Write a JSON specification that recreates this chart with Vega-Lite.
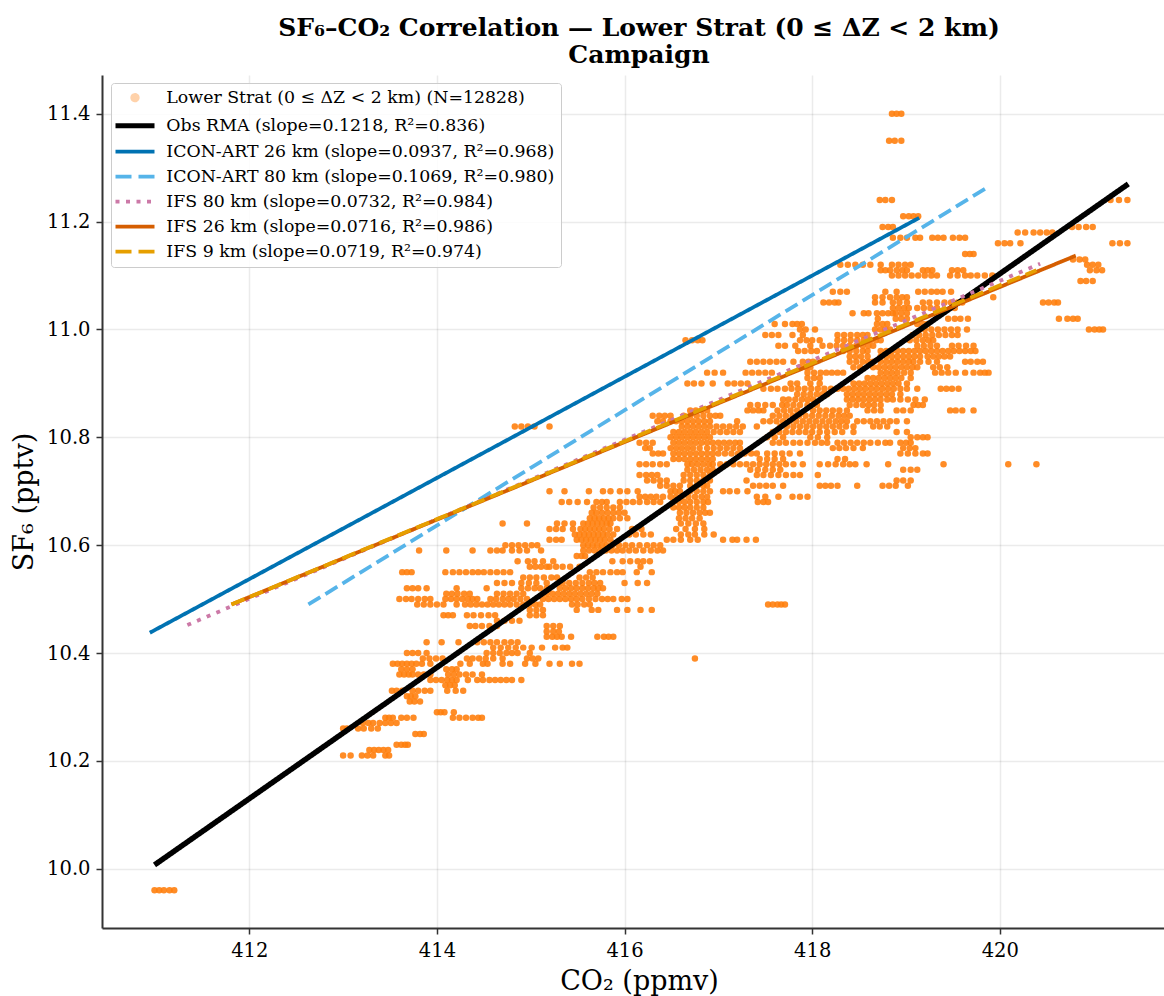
{"$schema":"https://vega.github.io/schema/vega-lite/v6.json","width":1062,"height":853,"autosize":"none","padding":{"left":102,"top":75,"right":0,"bottom":68},"background":"white",
"config":{"view":{"stroke":null},"font":"DejaVu Serif"},
"title":{"text":["SF₆–CO₂ Correlation — Lower Strat (0 ≤ ΔZ < 2 km)","Campaign"],"font":"DejaVu Serif","fontSize":25,"fontWeight":"bold","color":"#000","lineHeight":27,"anchor":"middle","dx":6,"offset":7,"frame":"group"},
"layer":[
{"data":{"values":[
{"x":410.99,"y":9.96},{"x":411.04,"y":9.96},{"x":411.09,"y":9.96},{"x":411.15,"y":9.96},{"x":411.2,"y":9.96},
{"x":413.0,"y":10.21},{"x":413.08,"y":10.21},{"x":413.2,"y":10.21},{"x":413.26,"y":10.21},{"x":413.32,"y":10.21},{"x":413.45,"y":10.21},{"x":413.49,"y":10.21},
{"x":413.28,"y":10.22},{"x":413.33,"y":10.22},{"x":413.38,"y":10.22},{"x":413.43,"y":10.22},{"x":413.48,"y":10.22},
{"x":413.57,"y":10.23},{"x":413.62,"y":10.23},{"x":413.66,"y":10.23},{"x":413.69,"y":10.23},
{"x":413.77,"y":10.25},{"x":413.82,"y":10.25},{"x":413.86,"y":10.25},
{"x":413.0,"y":10.26},{"x":413.04,"y":10.26},{"x":413.16,"y":10.26},{"x":413.22,"y":10.26},{"x":413.3,"y":10.26},{"x":413.37,"y":10.26},
{"x":413.21,"y":10.27},{"x":413.27,"y":10.27},{"x":413.32,"y":10.27},{"x":413.39,"y":10.27},{"x":413.45,"y":10.27},{"x":413.51,"y":10.27},{"x":413.57,"y":10.27},
{"x":413.45,"y":10.28},{"x":413.49,"y":10.28},{"x":413.53,"y":10.28},{"x":413.62,"y":10.28},{"x":413.68,"y":10.28},{"x":413.75,"y":10.28},{"x":414.17,"y":10.28},{"x":414.24,"y":10.28},{"x":414.31,"y":10.28},{"x":414.38,"y":10.28},{"x":414.44,"y":10.28},{"x":414.48,"y":10.28},
{"x":414.0,"y":10.29},{"x":414.04,"y":10.29},{"x":414.08,"y":10.29},{"x":414.18,"y":10.29},
{"x":413.71,"y":10.31},{"x":413.76,"y":10.31},{"x":413.82,"y":10.31},
{"x":413.68,"y":10.32},{"x":413.72,"y":10.32},{"x":413.77,"y":10.32},
{"x":413.52,"y":10.33},{"x":413.57,"y":10.33},{"x":413.63,"y":10.33},{"x":413.74,"y":10.33},{"x":413.8,"y":10.33},{"x":413.87,"y":10.33},{"x":413.93,"y":10.33},{"x":414.11,"y":10.33},{"x":414.2,"y":10.33},{"x":414.28,"y":10.33},
{"x":414.09,"y":10.34},{"x":414.14,"y":10.34},{"x":414.19,"y":10.34},
{"x":413.93,"y":10.35},{"x":413.99,"y":10.35},{"x":414.05,"y":10.35},{"x":414.11,"y":10.35},{"x":414.16,"y":10.35},{"x":414.21,"y":10.35},{"x":414.33,"y":10.35},{"x":414.43,"y":10.35},{"x":414.49,"y":10.35},{"x":414.56,"y":10.35},{"x":414.62,"y":10.35},{"x":414.68,"y":10.35},{"x":414.74,"y":10.35},{"x":414.8,"y":10.35},{"x":414.9,"y":10.35},
{"x":413.6,"y":10.36},{"x":413.65,"y":10.36},{"x":413.7,"y":10.36},{"x":413.74,"y":10.36},{"x":413.8,"y":10.36},{"x":413.86,"y":10.36},{"x":413.93,"y":10.36},{"x":414.12,"y":10.36},{"x":414.18,"y":10.36},{"x":414.24,"y":10.36},{"x":414.31,"y":10.36},{"x":414.38,"y":10.36},{"x":414.48,"y":10.36},
{"x":413.62,"y":10.37},{"x":413.68,"y":10.37},{"x":413.74,"y":10.37},{"x":414.1,"y":10.37},{"x":414.16,"y":10.37},{"x":414.21,"y":10.37},
{"x":413.53,"y":10.38},{"x":413.58,"y":10.38},{"x":413.63,"y":10.38},{"x":413.68,"y":10.38},{"x":413.73,"y":10.38},{"x":413.78,"y":10.38},{"x":413.84,"y":10.38},{"x":413.93,"y":10.38},{"x":414.25,"y":10.38},{"x":414.35,"y":10.38},{"x":414.49,"y":10.38},{"x":414.54,"y":10.38},{"x":414.7,"y":10.38},{"x":414.78,"y":10.38},{"x":414.94,"y":10.38},{"x":415.05,"y":10.38},{"x":415.2,"y":10.38},{"x":415.31,"y":10.38},{"x":415.44,"y":10.38},{"x":415.52,"y":10.38},
{"x":413.85,"y":10.39},{"x":413.92,"y":10.39},{"x":413.99,"y":10.39},{"x":414.06,"y":10.39},{"x":414.32,"y":10.39},{"x":414.38,"y":10.39},{"x":414.45,"y":10.39},{"x":414.52,"y":10.39},{"x":414.6,"y":10.39},{"x":414.7,"y":10.39},{"x":414.96,"y":10.39},{"x":415.02,"y":10.39},{"x":415.08,"y":10.39},{"x":416.75,"y":10.39},
{"x":413.68,"y":10.4},{"x":413.74,"y":10.4},{"x":413.8,"y":10.4},{"x":413.89,"y":10.4},{"x":414.53,"y":10.4},{"x":414.6,"y":10.4},{"x":414.67,"y":10.4},{"x":414.74,"y":10.4},{"x":414.8,"y":10.4},{"x":414.86,"y":10.4},{"x":414.99,"y":10.4},
{"x":414.6,"y":10.41},{"x":414.68,"y":10.41},{"x":414.76,"y":10.41},{"x":414.84,"y":10.41},{"x":414.92,"y":10.41},{"x":415.01,"y":10.41},{"x":415.12,"y":10.41},{"x":415.26,"y":10.41},{"x":415.34,"y":10.41},{"x":415.39,"y":10.41},
{"x":413.89,"y":10.42},{"x":414.05,"y":10.42},{"x":414.23,"y":10.42},{"x":414.43,"y":10.42},{"x":414.5,"y":10.42},{"x":414.57,"y":10.42},{"x":414.64,"y":10.42},{"x":414.72,"y":10.42},{"x":414.79,"y":10.42},{"x":414.86,"y":10.42},
{"x":415.17,"y":10.43},{"x":415.23,"y":10.43},{"x":415.28,"y":10.43},{"x":415.33,"y":10.43},{"x":415.43,"y":10.43},{"x":415.71,"y":10.43},{"x":415.78,"y":10.43},{"x":415.83,"y":10.43},{"x":415.88,"y":10.43},
{"x":415.17,"y":10.44},{"x":415.24,"y":10.44},{"x":415.3,"y":10.44},
{"x":414.35,"y":10.45},{"x":414.41,"y":10.45},{"x":414.48,"y":10.45},{"x":414.56,"y":10.45},{"x":414.64,"y":10.45},{"x":415.17,"y":10.45},{"x":415.24,"y":10.45},{"x":415.31,"y":10.45},
{"x":414.64,"y":10.46},{"x":414.72,"y":10.46},{"x":414.8,"y":10.46},{"x":414.88,"y":10.46},
{"x":414.07,"y":10.47},{"x":414.12,"y":10.47},{"x":414.17,"y":10.47},{"x":414.32,"y":10.47},{"x":414.39,"y":10.47},{"x":414.47,"y":10.47},{"x":414.55,"y":10.47},{"x":414.62,"y":10.47},{"x":414.99,"y":10.47},{"x":415.06,"y":10.47},{"x":415.13,"y":10.47},
{"x":414.99,"y":10.48},{"x":415.06,"y":10.48},{"x":415.13,"y":10.48},{"x":415.49,"y":10.48},{"x":415.65,"y":10.48},{"x":415.72,"y":10.48},{"x":415.92,"y":10.48},{"x":416.03,"y":10.48},{"x":416.17,"y":10.48},{"x":416.29,"y":10.48},
{"x":413.79,"y":10.49},{"x":413.86,"y":10.49},{"x":413.93,"y":10.49},{"x":414.0,"y":10.49},{"x":414.07,"y":10.49},{"x":414.21,"y":10.49},{"x":414.3,"y":10.49},{"x":414.36,"y":10.49},{"x":414.42,"y":10.49},{"x":414.48,"y":10.49},{"x":414.54,"y":10.49},{"x":414.6,"y":10.49},{"x":414.66,"y":10.49},{"x":414.72,"y":10.49},{"x":414.78,"y":10.49},{"x":414.85,"y":10.49},{"x":414.92,"y":10.49},{"x":414.99,"y":10.49},{"x":415.05,"y":10.49},{"x":415.1,"y":10.49},{"x":415.44,"y":10.49},{"x":415.5,"y":10.49},{"x":415.57,"y":10.49},{"x":415.63,"y":10.49},{"x":417.53,"y":10.49},{"x":417.58,"y":10.49},{"x":417.63,"y":10.49},{"x":417.67,"y":10.49},{"x":417.71,"y":10.49},
{"x":413.6,"y":10.5},{"x":413.67,"y":10.5},{"x":413.73,"y":10.5},{"x":413.8,"y":10.5},{"x":413.87,"y":10.5},{"x":413.93,"y":10.5},{"x":414.09,"y":10.5},{"x":414.15,"y":10.5},{"x":414.21,"y":10.5},{"x":414.27,"y":10.5},{"x":414.33,"y":10.5},{"x":414.38,"y":10.5},{"x":414.43,"y":10.5},{"x":414.57,"y":10.5},{"x":414.63,"y":10.5},{"x":414.7,"y":10.5},{"x":414.76,"y":10.5},{"x":414.82,"y":10.5},{"x":414.89,"y":10.5},{"x":414.96,"y":10.5},{"x":415.13,"y":10.5},{"x":415.19,"y":10.5},{"x":415.25,"y":10.5},{"x":415.31,"y":10.5},{"x":415.37,"y":10.5},{"x":415.43,"y":10.5},{"x":415.49,"y":10.5},{"x":415.55,"y":10.5},{"x":415.62,"y":10.5},{"x":415.69,"y":10.5},{"x":415.76,"y":10.5},{"x":415.82,"y":10.5},{"x":415.88,"y":10.5},{"x":415.97,"y":10.5},{"x":416.03,"y":10.5},
{"x":414.1,"y":10.51},{"x":414.16,"y":10.51},{"x":414.22,"y":10.51},{"x":414.29,"y":10.51},{"x":414.35,"y":10.51},{"x":414.64,"y":10.51},{"x":414.71,"y":10.51},{"x":414.78,"y":10.51},{"x":414.85,"y":10.51},{"x":414.92,"y":10.51},{"x":415.17,"y":10.51},{"x":415.23,"y":10.51},{"x":415.29,"y":10.51},{"x":415.35,"y":10.51},{"x":415.41,"y":10.51},{"x":415.47,"y":10.51},{"x":415.53,"y":10.51},{"x":415.59,"y":10.51},{"x":415.65,"y":10.51},{"x":415.71,"y":10.51},
{"x":413.68,"y":10.52},{"x":413.74,"y":10.52},{"x":413.8,"y":10.52},{"x":413.89,"y":10.52},{"x":414.21,"y":10.52},{"x":414.53,"y":10.52},{"x":414.9,"y":10.52},{"x":414.97,"y":10.52},{"x":415.04,"y":10.52},{"x":415.1,"y":10.52},{"x":415.17,"y":10.52},{"x":415.31,"y":10.52},{"x":415.37,"y":10.52},{"x":415.43,"y":10.52},{"x":415.49,"y":10.52},{"x":415.55,"y":10.52},{"x":415.61,"y":10.52},{"x":415.67,"y":10.52},{"x":415.72,"y":10.52},{"x":415.77,"y":10.52},
{"x":414.64,"y":10.53},{"x":414.72,"y":10.53},{"x":414.8,"y":10.53},{"x":414.9,"y":10.53},{"x":414.98,"y":10.53},{"x":415.06,"y":10.53},{"x":415.17,"y":10.53},{"x":415.34,"y":10.53},{"x":415.41,"y":10.53},{"x":415.48,"y":10.53},{"x":415.55,"y":10.53},{"x":415.62,"y":10.53},{"x":415.68,"y":10.53},{"x":415.74,"y":10.53},{"x":416.0,"y":10.53},{"x":416.14,"y":10.53},{"x":416.24,"y":10.53},
{"x":414.92,"y":10.54},{"x":414.99,"y":10.54},{"x":415.06,"y":10.54},{"x":415.14,"y":10.54},{"x":415.22,"y":10.54},{"x":415.28,"y":10.54},{"x":415.52,"y":10.54},{"x":415.59,"y":10.54},{"x":415.66,"y":10.54},
{"x":413.63,"y":10.55},{"x":413.68,"y":10.55},{"x":413.73,"y":10.55},{"x":414.09,"y":10.55},{"x":414.17,"y":10.55},{"x":414.24,"y":10.55},{"x":414.31,"y":10.55},{"x":414.38,"y":10.55},{"x":414.44,"y":10.55},{"x":414.5,"y":10.55},{"x":414.57,"y":10.55},{"x":414.64,"y":10.55},{"x":414.71,"y":10.55},{"x":414.78,"y":10.55},{"x":415.63,"y":10.55},{"x":415.7,"y":10.55},{"x":415.77,"y":10.55},{"x":415.85,"y":10.55},{"x":415.92,"y":10.55},{"x":415.98,"y":10.55},{"x":416.13,"y":10.55},{"x":416.29,"y":10.55},
{"x":414.99,"y":10.56},{"x":415.05,"y":10.56},{"x":415.11,"y":10.56},{"x":415.17,"y":10.56},{"x":415.2,"y":10.56},{"x":415.27,"y":10.56},{"x":415.34,"y":10.56},{"x":415.42,"y":10.56},{"x":415.52,"y":10.56},{"x":416.17,"y":10.56},
{"x":414.86,"y":10.57},{"x":414.97,"y":10.57},{"x":415.04,"y":10.57},{"x":415.13,"y":10.57},{"x":415.24,"y":10.57},{"x":415.87,"y":10.57},{"x":415.98,"y":10.57},{"x":416.06,"y":10.57},{"x":416.14,"y":10.57},{"x":416.2,"y":10.57},{"x":416.27,"y":10.57},
{"x":415.49,"y":10.58},{"x":415.54,"y":10.58},{"x":415.58,"y":10.58},
{"x":413.81,"y":10.59},{"x":414.1,"y":10.59},{"x":414.38,"y":10.59},{"x":414.57,"y":10.59},{"x":414.64,"y":10.59},{"x":414.7,"y":10.59},{"x":414.8,"y":10.59},{"x":414.88,"y":10.59},{"x":414.96,"y":10.59},{"x":415.11,"y":10.59},{"x":415.56,"y":10.59},{"x":415.62,"y":10.59},{"x":415.68,"y":10.59},{"x":415.74,"y":10.59},{"x":415.8,"y":10.59},{"x":415.86,"y":10.59},{"x":415.92,"y":10.59},{"x":415.98,"y":10.59},{"x":416.05,"y":10.59},{"x":416.12,"y":10.59},{"x":416.2,"y":10.59},{"x":416.28,"y":10.59},{"x":416.35,"y":10.59},{"x":416.41,"y":10.59},
{"x":414.73,"y":10.6},{"x":414.8,"y":10.6},{"x":414.87,"y":10.6},{"x":414.94,"y":10.6},{"x":415.01,"y":10.6},{"x":415.07,"y":10.6},{"x":415.56,"y":10.6},{"x":415.61,"y":10.6},{"x":415.66,"y":10.6},{"x":415.71,"y":10.6},{"x":415.76,"y":10.6},{"x":415.81,"y":10.6},{"x":415.87,"y":10.6},{"x":415.94,"y":10.6},{"x":416.01,"y":10.6},{"x":416.08,"y":10.6},{"x":416.16,"y":10.6},{"x":416.24,"y":10.6},{"x":416.31,"y":10.6},{"x":416.38,"y":10.6},
{"x":415.2,"y":10.61},{"x":415.27,"y":10.61},{"x":415.33,"y":10.61},{"x":415.49,"y":10.61},{"x":415.54,"y":10.61},{"x":415.59,"y":10.61},{"x":415.64,"y":10.61},{"x":415.69,"y":10.61},{"x":415.74,"y":10.61},{"x":415.79,"y":10.61},{"x":415.85,"y":10.61},{"x":416.45,"y":10.61},{"x":416.52,"y":10.61},{"x":416.6,"y":10.61},{"x":416.7,"y":10.61},{"x":416.78,"y":10.61},{"x":417.05,"y":10.61},{"x":417.15,"y":10.61},{"x":417.2,"y":10.61},{"x":417.3,"y":10.61},{"x":417.4,"y":10.61},
{"x":415.47,"y":10.62},{"x":415.52,"y":10.62},{"x":415.57,"y":10.62},{"x":415.62,"y":10.62},{"x":415.67,"y":10.62},{"x":415.72,"y":10.62},{"x":415.77,"y":10.62},{"x":415.82,"y":10.62},{"x":415.88,"y":10.62},{"x":416.05,"y":10.62},{"x":416.12,"y":10.62},{"x":416.2,"y":10.62},{"x":416.28,"y":10.62},{"x":416.6,"y":10.62},{"x":416.68,"y":10.62},{"x":416.75,"y":10.62},{"x":416.85,"y":10.62},{"x":416.95,"y":10.62},
{"x":415.2,"y":10.63},{"x":415.27,"y":10.63},{"x":415.34,"y":10.63},{"x":415.45,"y":10.63},{"x":415.53,"y":10.63},{"x":415.58,"y":10.63},{"x":415.63,"y":10.63},{"x":415.68,"y":10.63},{"x":415.73,"y":10.63},{"x":415.78,"y":10.63},{"x":415.84,"y":10.63},{"x":415.92,"y":10.63},{"x":416.08,"y":10.63},{"x":416.18,"y":10.63},{"x":416.55,"y":10.63},{"x":416.65,"y":10.63},{"x":416.75,"y":10.63},{"x":416.85,"y":10.63},
{"x":414.7,"y":10.64},{"x":414.96,"y":10.64},{"x":415.28,"y":10.64},{"x":415.36,"y":10.64},{"x":415.45,"y":10.64},{"x":415.56,"y":10.64},{"x":415.61,"y":10.64},{"x":415.66,"y":10.64},{"x":415.71,"y":10.64},{"x":415.76,"y":10.64},{"x":415.81,"y":10.64},{"x":415.85,"y":10.64},{"x":416.6,"y":10.64},{"x":416.68,"y":10.64},{"x":416.76,"y":10.64},{"x":416.84,"y":10.64},
{"x":415.63,"y":10.65},{"x":415.68,"y":10.65},{"x":415.73,"y":10.65},{"x":415.78,"y":10.65},{"x":415.83,"y":10.65},{"x":415.88,"y":10.65},{"x":415.95,"y":10.65},{"x":416.03,"y":10.65},{"x":416.58,"y":10.65},{"x":416.65,"y":10.65},{"x":416.72,"y":10.65},{"x":416.8,"y":10.65},
{"x":415.65,"y":10.66},{"x":415.7,"y":10.66},{"x":415.76,"y":10.66},{"x":415.82,"y":10.66},{"x":415.88,"y":10.66},{"x":415.94,"y":10.66},{"x":416.0,"y":10.66},{"x":416.59,"y":10.66},{"x":416.66,"y":10.66},{"x":416.73,"y":10.66},{"x":416.8,"y":10.66},{"x":416.86,"y":10.66},{"x":416.91,"y":10.66},
{"x":415.67,"y":10.67},{"x":415.74,"y":10.67},{"x":415.81,"y":10.67},{"x":415.88,"y":10.67},{"x":415.95,"y":10.67},{"x":416.52,"y":10.67},{"x":416.58,"y":10.67},{"x":416.64,"y":10.67},{"x":416.7,"y":10.67},{"x":416.77,"y":10.67},{"x":416.84,"y":10.67},
{"x":415.33,"y":10.68},{"x":415.41,"y":10.68},{"x":415.5,"y":10.68},{"x":415.6,"y":10.68},{"x":415.7,"y":10.68},{"x":415.76,"y":10.68},{"x":415.81,"y":10.68},{"x":415.95,"y":10.68},{"x":416.02,"y":10.68},{"x":416.09,"y":10.68},{"x":416.16,"y":10.68},{"x":416.24,"y":10.68},{"x":416.31,"y":10.68},{"x":416.38,"y":10.68},{"x":416.52,"y":10.68},{"x":416.58,"y":10.68},{"x":416.64,"y":10.68},{"x":416.7,"y":10.68},{"x":416.77,"y":10.68},{"x":416.84,"y":10.68},{"x":416.89,"y":10.68},{"x":417.42,"y":10.68},{"x":417.48,"y":10.68},{"x":417.53,"y":10.68},
{"x":416.16,"y":10.69},{"x":416.22,"y":10.69},{"x":416.28,"y":10.69},{"x":416.34,"y":10.69},{"x":416.41,"y":10.69},{"x":416.49,"y":10.69},{"x":416.55,"y":10.69},{"x":416.61,"y":10.69},{"x":416.68,"y":10.69},{"x":416.75,"y":10.69},{"x":416.82,"y":10.69},{"x":416.88,"y":10.69},{"x":417.41,"y":10.69},{"x":417.5,"y":10.69},{"x":417.64,"y":10.69},{"x":417.79,"y":10.69},{"x":417.87,"y":10.69},{"x":417.95,"y":10.69},
{"x":415.2,"y":10.7},{"x":415.36,"y":10.7},{"x":415.62,"y":10.7},{"x":415.77,"y":10.7},{"x":415.85,"y":10.7},{"x":415.95,"y":10.7},{"x":416.03,"y":10.7},{"x":416.14,"y":10.7},{"x":416.49,"y":10.7},{"x":416.54,"y":10.7},{"x":416.59,"y":10.7},{"x":416.7,"y":10.7},{"x":416.77,"y":10.7},{"x":416.84,"y":10.7},{"x":416.91,"y":10.7},{"x":417.05,"y":10.7},{"x":417.12,"y":10.7},{"x":417.2,"y":10.7},{"x":417.31,"y":10.7},
{"x":416.38,"y":10.71},{"x":416.45,"y":10.71},{"x":416.52,"y":10.71},{"x":416.59,"y":10.71},{"x":416.7,"y":10.71},{"x":416.77,"y":10.71},{"x":416.84,"y":10.71},{"x":416.88,"y":10.71},{"x":417.37,"y":10.71},{"x":417.44,"y":10.71},{"x":417.51,"y":10.71},{"x":417.58,"y":10.71},{"x":417.69,"y":10.71},{"x":418.08,"y":10.71},{"x":418.14,"y":10.71},{"x":418.2,"y":10.71},{"x":418.27,"y":10.71},{"x":418.48,"y":10.71},{"x":418.75,"y":10.71},{"x":418.82,"y":10.71},{"x":418.89,"y":10.71},{"x":419.02,"y":10.71},
{"x":416.24,"y":10.72},{"x":416.31,"y":10.72},{"x":416.38,"y":10.72},{"x":416.45,"y":10.72},{"x":416.63,"y":10.72},{"x":416.7,"y":10.72},{"x":416.77,"y":10.72},{"x":416.84,"y":10.72},{"x":416.91,"y":10.72},{"x":417.3,"y":10.72},{"x":418.9,"y":10.72},{"x":418.97,"y":10.72},{"x":419.05,"y":10.72},
{"x":416.16,"y":10.73},{"x":416.23,"y":10.73},{"x":416.29,"y":10.73},{"x":416.35,"y":10.73},{"x":416.63,"y":10.73},{"x":416.7,"y":10.73},{"x":416.77,"y":10.73},{"x":416.84,"y":10.73},{"x":416.91,"y":10.73},{"x":417.41,"y":10.73},{"x":417.48,"y":10.73},{"x":417.56,"y":10.73},{"x":417.64,"y":10.73},{"x":417.72,"y":10.73},{"x":417.8,"y":10.73},{"x":417.87,"y":10.73},{"x":418.06,"y":10.73},
{"x":416.67,"y":10.74},{"x":416.74,"y":10.74},{"x":416.81,"y":10.74},{"x":416.88,"y":10.74},{"x":416.94,"y":10.74},{"x":417.34,"y":10.74},{"x":417.42,"y":10.74},{"x":417.5,"y":10.74},{"x":417.58,"y":10.74},{"x":417.66,"y":10.74},{"x":418.97,"y":10.74},{"x":419.05,"y":10.74},{"x":419.12,"y":10.74},
{"x":416.16,"y":10.75},{"x":416.23,"y":10.75},{"x":416.3,"y":10.75},{"x":416.38,"y":10.75},{"x":416.45,"y":10.75},{"x":416.67,"y":10.75},{"x":416.72,"y":10.75},{"x":416.78,"y":10.75},{"x":416.84,"y":10.75},{"x":416.9,"y":10.75},{"x":416.94,"y":10.75},{"x":417.02,"y":10.75},{"x":417.09,"y":10.75},{"x":417.16,"y":10.75},{"x":417.23,"y":10.75},{"x":417.3,"y":10.75},{"x":417.37,"y":10.75},{"x":417.44,"y":10.75},{"x":417.51,"y":10.75},{"x":417.58,"y":10.75},{"x":417.65,"y":10.75},{"x":417.72,"y":10.75},{"x":417.8,"y":10.75},{"x":417.9,"y":10.75},{"x":418.08,"y":10.75},{"x":418.17,"y":10.75},{"x":418.25,"y":10.75},{"x":418.33,"y":10.75},{"x":418.4,"y":10.75},{"x":418.46,"y":10.75},{"x":418.58,"y":10.75},{"x":418.81,"y":10.75},{"x":419.4,"y":10.75},{"x":420.09,"y":10.75},{"x":420.39,"y":10.75},
{"x":416.52,"y":10.76},{"x":416.58,"y":10.76},{"x":416.64,"y":10.76},{"x":416.7,"y":10.76},{"x":416.76,"y":10.76},{"x":416.82,"y":10.76},{"x":416.88,"y":10.76},{"x":416.94,"y":10.76},{"x":417.44,"y":10.76},{"x":417.52,"y":10.76},{"x":417.6,"y":10.76},{"x":417.69,"y":10.76},{"x":418.27,"y":10.76},{"x":418.35,"y":10.76},
{"x":416.3,"y":10.77},{"x":416.36,"y":10.77},{"x":416.41,"y":10.77},{"x":416.52,"y":10.77},{"x":416.58,"y":10.77},{"x":416.64,"y":10.77},{"x":416.7,"y":10.77},{"x":416.76,"y":10.77},{"x":416.82,"y":10.77},{"x":416.88,"y":10.77},{"x":416.94,"y":10.77},{"x":417.0,"y":10.77},{"x":417.07,"y":10.77},{"x":417.14,"y":10.77},{"x":417.21,"y":10.77},{"x":417.28,"y":10.77},{"x":417.35,"y":10.77},{"x":417.41,"y":10.77},{"x":417.52,"y":10.77},{"x":417.6,"y":10.77},{"x":417.68,"y":10.77},{"x":417.76,"y":10.77},{"x":417.87,"y":10.77},{"x":418.94,"y":10.77},{"x":419.02,"y":10.77},{"x":419.1,"y":10.77},{"x":419.18,"y":10.77},{"x":419.23,"y":10.77},
{"x":416.22,"y":10.78},{"x":416.27,"y":10.78},{"x":416.49,"y":10.78},{"x":416.55,"y":10.78},{"x":416.61,"y":10.78},{"x":416.67,"y":10.78},{"x":416.73,"y":10.78},{"x":416.8,"y":10.78},{"x":416.88,"y":10.78},{"x":416.95,"y":10.78},{"x":417.02,"y":10.78},{"x":417.09,"y":10.78},{"x":417.16,"y":10.78},{"x":417.23,"y":10.78},{"x":418.22,"y":10.78},{"x":418.29,"y":10.78},{"x":418.36,"y":10.78},{"x":418.44,"y":10.78},{"x":418.54,"y":10.78},{"x":418.97,"y":10.78},{"x":419.04,"y":10.78},{"x":419.1,"y":10.78},
{"x":416.16,"y":10.79},{"x":416.23,"y":10.79},{"x":416.3,"y":10.79},{"x":416.52,"y":10.79},{"x":416.58,"y":10.79},{"x":416.64,"y":10.79},{"x":416.7,"y":10.79},{"x":416.76,"y":10.79},{"x":416.82,"y":10.79},{"x":416.88,"y":10.79},{"x":416.94,"y":10.79},{"x":417.0,"y":10.79},{"x":417.06,"y":10.79},{"x":417.12,"y":10.79},{"x":417.18,"y":10.79},{"x":417.23,"y":10.79},{"x":417.58,"y":10.79},{"x":417.65,"y":10.79},{"x":417.72,"y":10.79},{"x":417.8,"y":10.79},{"x":417.87,"y":10.79},{"x":417.95,"y":10.79},{"x":418.03,"y":10.79},{"x":418.1,"y":10.79},{"x":418.16,"y":10.79},{"x":418.27,"y":10.79},{"x":418.34,"y":10.79},{"x":418.41,"y":10.79},{"x":418.48,"y":10.79},{"x":418.55,"y":10.79},{"x":418.62,"y":10.79},{"x":418.7,"y":10.79},{"x":418.78,"y":10.79},{"x":418.83,"y":10.79},{"x":418.94,"y":10.79},{"x":419.0,"y":10.79},{"x":419.05,"y":10.79},
{"x":416.49,"y":10.8},{"x":416.55,"y":10.8},{"x":416.61,"y":10.8},{"x":416.67,"y":10.8},{"x":416.73,"y":10.8},{"x":416.79,"y":10.8},{"x":416.85,"y":10.8},{"x":416.91,"y":10.8},{"x":417.52,"y":10.8},{"x":417.6,"y":10.8},{"x":417.69,"y":10.8},{"x":417.98,"y":10.8},{"x":418.06,"y":10.8},{"x":418.16,"y":10.8},{"x":419.05,"y":10.8},{"x":419.12,"y":10.8},{"x":419.18,"y":10.8},{"x":419.23,"y":10.8},
{"x":416.52,"y":10.81},{"x":416.58,"y":10.81},{"x":416.64,"y":10.81},{"x":416.7,"y":10.81},{"x":416.76,"y":10.81},{"x":416.82,"y":10.81},{"x":416.88,"y":10.81},{"x":416.95,"y":10.81},{"x":417.02,"y":10.81},{"x":417.09,"y":10.81},{"x":417.16,"y":10.81},{"x":417.23,"y":10.81},{"x":417.58,"y":10.81},{"x":417.65,"y":10.81},{"x":417.72,"y":10.81},{"x":417.79,"y":10.81},{"x":417.86,"y":10.81},{"x":417.93,"y":10.81},{"x":418.0,"y":10.81},{"x":418.08,"y":10.81},{"x":418.16,"y":10.81},{"x":418.24,"y":10.81},{"x":418.32,"y":10.81},{"x":418.44,"y":10.81},{"x":418.9,"y":10.81},{"x":419.01,"y":10.81},
{"x":414.83,"y":10.82},{"x":414.9,"y":10.82},{"x":414.97,"y":10.82},{"x":415.04,"y":10.82},{"x":415.2,"y":10.82},{"x":416.61,"y":10.82},{"x":416.67,"y":10.82},{"x":416.73,"y":10.82},{"x":416.79,"y":10.82},{"x":416.85,"y":10.82},{"x":416.91,"y":10.82},{"x":416.98,"y":10.82},{"x":417.05,"y":10.82},{"x":417.12,"y":10.82},{"x":417.19,"y":10.82},{"x":417.26,"y":10.82},{"x":417.41,"y":10.82},{"x":417.66,"y":10.82},{"x":417.73,"y":10.82},{"x":417.8,"y":10.82},{"x":417.87,"y":10.82},{"x":417.94,"y":10.82},{"x":418.01,"y":10.82},{"x":418.08,"y":10.82},{"x":418.15,"y":10.82},{"x":418.22,"y":10.82},{"x":418.29,"y":10.82},{"x":418.36,"y":10.82},{"x":418.44,"y":10.82},{"x":418.65,"y":10.82},{"x":418.72,"y":10.82},{"x":418.8,"y":10.82},
{"x":416.35,"y":10.83},{"x":416.41,"y":10.83},{"x":416.49,"y":10.83},{"x":416.55,"y":10.83},{"x":416.61,"y":10.83},{"x":416.67,"y":10.83},{"x":416.73,"y":10.83},{"x":416.79,"y":10.83},{"x":416.85,"y":10.83},{"x":416.91,"y":10.83},{"x":417.2,"y":10.83},{"x":417.48,"y":10.83},{"x":417.55,"y":10.83},{"x":417.62,"y":10.83},{"x":417.69,"y":10.83},{"x":417.76,"y":10.83},{"x":417.83,"y":10.83},{"x":417.9,"y":10.83},{"x":417.97,"y":10.83},{"x":418.04,"y":10.83},{"x":418.11,"y":10.83},{"x":418.18,"y":10.83},{"x":418.25,"y":10.83},{"x":418.31,"y":10.83},{"x":418.37,"y":10.83},{"x":418.48,"y":10.83},{"x":418.55,"y":10.83},{"x":418.62,"y":10.83},{"x":418.69,"y":10.83},{"x":418.76,"y":10.83},{"x":418.83,"y":10.83},{"x":418.9,"y":10.83},{"x":419.01,"y":10.83},
{"x":416.3,"y":10.84},{"x":416.37,"y":10.84},{"x":416.43,"y":10.84},{"x":416.49,"y":10.84},{"x":416.63,"y":10.84},{"x":416.7,"y":10.84},{"x":416.77,"y":10.84},{"x":416.84,"y":10.84},{"x":416.91,"y":10.84},{"x":416.97,"y":10.84},{"x":417.02,"y":10.84},{"x":417.58,"y":10.84},{"x":417.65,"y":10.84},{"x":417.72,"y":10.84},{"x":417.79,"y":10.84},{"x":417.86,"y":10.84},{"x":417.93,"y":10.84},{"x":418.0,"y":10.84},{"x":418.07,"y":10.84},{"x":418.14,"y":10.84},{"x":418.21,"y":10.84},{"x":418.28,"y":10.84},{"x":418.34,"y":10.84},{"x":418.4,"y":10.84},
{"x":416.7,"y":10.85},{"x":416.76,"y":10.85},{"x":416.82,"y":10.85},{"x":416.88,"y":10.85},{"x":417.31,"y":10.85},{"x":417.37,"y":10.85},{"x":417.43,"y":10.85},{"x":417.48,"y":10.85},{"x":417.63,"y":10.85},{"x":417.7,"y":10.85},{"x":417.77,"y":10.85},{"x":417.84,"y":10.85},{"x":418.01,"y":10.85},{"x":418.08,"y":10.85},{"x":418.15,"y":10.85},{"x":418.22,"y":10.85},{"x":418.29,"y":10.85},{"x":418.37,"y":10.85},{"x":418.59,"y":10.85},{"x":418.66,"y":10.85},{"x":418.73,"y":10.85},{"x":418.9,"y":10.85},{"x":418.97,"y":10.85},{"x":419.05,"y":10.85},{"x":419.47,"y":10.85},{"x":419.53,"y":10.85},{"x":419.6,"y":10.85},{"x":419.72,"y":10.85},
{"x":417.34,"y":10.86},{"x":417.42,"y":10.86},{"x":417.5,"y":10.86},{"x":417.58,"y":10.86},{"x":417.68,"y":10.86},{"x":417.73,"y":10.86},{"x":417.8,"y":10.86},{"x":417.87,"y":10.86},{"x":417.95,"y":10.86},{"x":418.05,"y":10.86},{"x":418.4,"y":10.86},{"x":418.47,"y":10.86},{"x":418.54,"y":10.86},{"x":418.6,"y":10.86},{"x":418.66,"y":10.86},{"x":418.73,"y":10.86},{"x":419.08,"y":10.86},{"x":419.13,"y":10.86},{"x":419.18,"y":10.86},
{"x":417.69,"y":10.87},{"x":417.75,"y":10.87},{"x":417.82,"y":10.87},{"x":417.89,"y":10.87},{"x":417.95,"y":10.87},{"x":418.01,"y":10.87},{"x":418.37,"y":10.87},{"x":418.43,"y":10.87},{"x":418.49,"y":10.87},{"x":418.55,"y":10.87},{"x":418.61,"y":10.87},{"x":418.67,"y":10.87},{"x":418.73,"y":10.87},{"x":418.8,"y":10.87},{"x":418.86,"y":10.87},{"x":418.94,"y":10.87},{"x":419.02,"y":10.87},{"x":419.1,"y":10.87},{"x":419.2,"y":10.87},
{"x":417.84,"y":10.88},{"x":417.91,"y":10.88},{"x":417.98,"y":10.88},{"x":418.05,"y":10.88},{"x":418.11,"y":10.88},{"x":418.16,"y":10.88},{"x":418.37,"y":10.88},{"x":418.43,"y":10.88},{"x":418.49,"y":10.88},{"x":418.55,"y":10.88},{"x":418.61,"y":10.88},{"x":418.67,"y":10.88},{"x":418.73,"y":10.88},{"x":418.79,"y":10.88},{"x":418.85,"y":10.88},{"x":418.94,"y":10.88},
{"x":417.48,"y":10.89},{"x":417.56,"y":10.89},{"x":417.63,"y":10.89},{"x":417.71,"y":10.89},{"x":417.78,"y":10.89},{"x":417.85,"y":10.89},{"x":417.92,"y":10.89},{"x":417.99,"y":10.89},{"x":418.06,"y":10.89},{"x":418.13,"y":10.89},{"x":418.2,"y":10.89},{"x":418.27,"y":10.89},{"x":418.33,"y":10.89},{"x":418.39,"y":10.89},{"x":418.45,"y":10.89},{"x":418.51,"y":10.89},{"x":418.57,"y":10.89},{"x":418.63,"y":10.89},{"x":418.69,"y":10.89},{"x":418.75,"y":10.89},{"x":418.81,"y":10.89},{"x":418.87,"y":10.89},{"x":418.94,"y":10.89},{"x":419.01,"y":10.89},{"x":419.12,"y":10.89},{"x":419.37,"y":10.89},{"x":419.43,"y":10.89},{"x":419.49,"y":10.89},{"x":419.56,"y":10.89},
{"x":416.67,"y":10.9},{"x":416.74,"y":10.9},{"x":416.82,"y":10.9},{"x":416.94,"y":10.9},{"x":417.1,"y":10.9},{"x":417.17,"y":10.9},{"x":417.24,"y":10.9},{"x":417.31,"y":10.9},{"x":417.77,"y":10.9},{"x":417.84,"y":10.9},{"x":417.98,"y":10.9},{"x":418.08,"y":10.9},{"x":418.44,"y":10.9},{"x":418.5,"y":10.9},{"x":418.56,"y":10.9},{"x":418.62,"y":10.9},{"x":418.68,"y":10.9},{"x":418.74,"y":10.9},{"x":418.8,"y":10.9},{"x":418.86,"y":10.9},{"x":418.92,"y":10.9},{"x":419.01,"y":10.9},
{"x":417.95,"y":10.91},{"x":418.02,"y":10.91},{"x":418.08,"y":10.91},{"x":418.59,"y":10.91},{"x":418.65,"y":10.91},{"x":418.71,"y":10.91},{"x":418.77,"y":10.91},{"x":418.83,"y":10.91},{"x":418.89,"y":10.91},{"x":418.95,"y":10.91},{"x":419.05,"y":10.91},
{"x":416.88,"y":10.92},{"x":416.96,"y":10.92},{"x":417.05,"y":10.92},{"x":417.29,"y":10.92},{"x":417.36,"y":10.92},{"x":417.43,"y":10.92},{"x":417.5,"y":10.92},{"x":417.57,"y":10.92},{"x":417.95,"y":10.92},{"x":418.02,"y":10.92},{"x":418.09,"y":10.92},{"x":418.15,"y":10.92},{"x":418.21,"y":10.92},{"x":418.27,"y":10.92},{"x":418.33,"y":10.92},{"x":418.73,"y":10.92},{"x":418.79,"y":10.92},{"x":418.85,"y":10.92},{"x":418.91,"y":10.92},{"x":418.98,"y":10.92},{"x":419.05,"y":10.92},{"x":419.31,"y":10.92},{"x":419.38,"y":10.92},{"x":419.45,"y":10.92},{"x":419.53,"y":10.92},{"x":419.63,"y":10.92},{"x":419.72,"y":10.92},{"x":419.79,"y":10.92},{"x":419.84,"y":10.92},{"x":419.88,"y":10.92},
{"x":417.87,"y":10.93},{"x":417.93,"y":10.93},{"x":417.98,"y":10.93},{"x":418.44,"y":10.93},{"x":418.51,"y":10.93},{"x":418.65,"y":10.93},{"x":418.71,"y":10.93},{"x":418.77,"y":10.93},{"x":418.83,"y":10.93},{"x":418.89,"y":10.93},{"x":418.95,"y":10.93},{"x":419.01,"y":10.93},{"x":419.07,"y":10.93},{"x":419.12,"y":10.93},{"x":419.29,"y":10.93},{"x":419.36,"y":10.93},{"x":419.44,"y":10.93},
{"x":417.34,"y":10.94},{"x":417.41,"y":10.94},{"x":417.48,"y":10.94},{"x":417.55,"y":10.94},{"x":417.62,"y":10.94},{"x":417.69,"y":10.94},{"x":417.8,"y":10.94},{"x":417.9,"y":10.94},{"x":417.96,"y":10.94},{"x":418.01,"y":10.94},{"x":418.4,"y":10.94},{"x":418.47,"y":10.94},{"x":418.54,"y":10.94},{"x":418.6,"y":10.94},{"x":418.65,"y":10.94},{"x":418.73,"y":10.94},{"x":418.79,"y":10.94},{"x":418.85,"y":10.94},{"x":418.91,"y":10.94},{"x":418.97,"y":10.94},{"x":419.03,"y":10.94},{"x":419.08,"y":10.94},{"x":419.15,"y":10.94},{"x":419.24,"y":10.94},{"x":419.33,"y":10.94},{"x":419.63,"y":10.94},{"x":419.69,"y":10.94},{"x":419.76,"y":10.94},{"x":419.82,"y":10.94},
{"x":418.4,"y":10.95},{"x":418.46,"y":10.95},{"x":418.52,"y":10.95},{"x":418.59,"y":10.95},{"x":418.73,"y":10.95},{"x":418.79,"y":10.95},{"x":418.85,"y":10.95},{"x":418.91,"y":10.95},{"x":418.97,"y":10.95},{"x":419.03,"y":10.95},{"x":419.09,"y":10.95},{"x":419.15,"y":10.95},{"x":419.23,"y":10.95},{"x":419.29,"y":10.95},{"x":419.35,"y":10.95},{"x":419.41,"y":10.95},{"x":419.47,"y":10.95},
{"x":417.85,"y":10.96},{"x":417.92,"y":10.96},{"x":417.99,"y":10.96},{"x":418.05,"y":10.96},{"x":418.33,"y":10.96},{"x":418.4,"y":10.96},{"x":418.47,"y":10.96},{"x":418.54,"y":10.96},{"x":418.59,"y":10.96},{"x":418.73,"y":10.96},{"x":418.79,"y":10.96},{"x":418.85,"y":10.96},{"x":418.91,"y":10.96},{"x":418.97,"y":10.96},{"x":419.03,"y":10.96},{"x":419.09,"y":10.96},{"x":419.15,"y":10.96},{"x":419.21,"y":10.96},{"x":419.27,"y":10.96},{"x":419.33,"y":10.96},{"x":419.39,"y":10.96},{"x":419.45,"y":10.96},{"x":419.51,"y":10.96},{"x":419.57,"y":10.96},{"x":419.63,"y":10.96},{"x":419.69,"y":10.96},{"x":419.74,"y":10.96},
{"x":417.64,"y":10.97},{"x":417.71,"y":10.97},{"x":417.82,"y":10.97},{"x":417.98,"y":10.97},{"x":418.11,"y":10.97},{"x":418.19,"y":10.97},{"x":418.26,"y":10.97},{"x":418.33,"y":10.97},{"x":418.4,"y":10.97},{"x":418.47,"y":10.97},{"x":418.54,"y":10.97},{"x":418.6,"y":10.97},{"x":418.65,"y":10.97},{"x":419.12,"y":10.97},{"x":419.19,"y":10.97},{"x":419.26,"y":10.97},{"x":419.33,"y":10.97},{"x":419.49,"y":10.97},{"x":419.56,"y":10.97},{"x":419.64,"y":10.97},{"x":419.72,"y":10.97},
{"x":416.65,"y":10.98},{"x":416.72,"y":10.98},{"x":416.78,"y":10.98},{"x":416.83,"y":10.98},{"x":417.87,"y":10.98},{"x":417.94,"y":10.98},{"x":418.0,"y":10.98},{"x":418.08,"y":10.98},{"x":418.27,"y":10.98},{"x":418.34,"y":10.98},{"x":418.41,"y":10.98},{"x":418.48,"y":10.98},{"x":418.55,"y":10.98},{"x":418.62,"y":10.98},{"x":418.68,"y":10.98},{"x":418.73,"y":10.98},{"x":419.04,"y":10.98},{"x":419.11,"y":10.98},{"x":419.18,"y":10.98},{"x":419.24,"y":10.98},{"x":419.29,"y":10.98},
{"x":417.5,"y":10.99},{"x":417.57,"y":10.99},{"x":417.64,"y":10.99},{"x":417.79,"y":10.99},{"x":417.9,"y":10.99},{"x":418.27,"y":10.99},{"x":418.34,"y":10.99},{"x":418.41,"y":10.99},{"x":418.48,"y":10.99},{"x":418.54,"y":10.99},{"x":418.59,"y":10.99},{"x":419.07,"y":10.99},{"x":419.14,"y":10.99},{"x":419.21,"y":10.99},{"x":419.28,"y":10.99},{"x":419.35,"y":10.99},{"x":419.42,"y":10.99},{"x":419.49,"y":10.99},{"x":419.55,"y":10.99},
{"x":417.87,"y":11.0},{"x":417.93,"y":11.0},{"x":418.03,"y":11.0},{"x":418.67,"y":11.0},{"x":418.73,"y":11.0},{"x":418.78,"y":11.0},{"x":418.83,"y":11.0},{"x":419.2,"y":11.0},{"x":419.27,"y":11.0},{"x":419.34,"y":11.0},{"x":419.41,"y":11.0},{"x":419.48,"y":11.0},{"x":419.55,"y":11.0},{"x":419.65,"y":11.0},{"x":420.95,"y":11.0},{"x":421.01,"y":11.0},{"x":421.06,"y":11.0},{"x":421.1,"y":11.0},
{"x":417.6,"y":11.01},{"x":417.71,"y":11.01},{"x":417.79,"y":11.01},{"x":417.84,"y":11.01},{"x":417.89,"y":11.01},{"x":418.69,"y":11.01},{"x":418.75,"y":11.01},{"x":418.8,"y":11.01},{"x":419.12,"y":11.01},{"x":419.18,"y":11.01},{"x":419.23,"y":11.01},
{"x":418.7,"y":11.02},{"x":418.89,"y":11.02},{"x":418.95,"y":11.02},{"x":419.01,"y":11.02},{"x":419.45,"y":11.02},{"x":419.52,"y":11.02},{"x":419.58,"y":11.02},{"x":419.66,"y":11.02},{"x":420.63,"y":11.02},{"x":420.72,"y":11.02},{"x":420.78,"y":11.02},{"x":420.83,"y":11.02},
{"x":418.43,"y":11.03},{"x":418.55,"y":11.03},{"x":418.6,"y":11.03},{"x":418.69,"y":11.03},{"x":418.75,"y":11.03},{"x":418.81,"y":11.03},{"x":418.86,"y":11.03},{"x":418.89,"y":11.03},{"x":418.95,"y":11.03},{"x":419.01,"y":11.03},
{"x":418.86,"y":11.04},{"x":418.92,"y":11.04},{"x":418.98,"y":11.04},{"x":419.03,"y":11.04},{"x":419.12,"y":11.04},{"x":419.19,"y":11.04},{"x":419.26,"y":11.04},{"x":419.33,"y":11.04},{"x":419.52,"y":11.04},
{"x":418.12,"y":11.05},{"x":418.18,"y":11.05},{"x":418.24,"y":11.05},{"x":418.28,"y":11.05},{"x":418.67,"y":11.05},{"x":418.75,"y":11.05},{"x":418.86,"y":11.05},{"x":418.93,"y":11.05},{"x":419.01,"y":11.05},{"x":419.18,"y":11.05},{"x":419.25,"y":11.05},{"x":419.33,"y":11.05},{"x":419.41,"y":11.05},{"x":419.48,"y":11.05},{"x":419.55,"y":11.05},{"x":419.6,"y":11.05},{"x":420.46,"y":11.05},{"x":420.52,"y":11.05},{"x":420.58,"y":11.05},{"x":420.62,"y":11.05},
{"x":418.67,"y":11.06},{"x":418.75,"y":11.06},{"x":418.83,"y":11.06},{"x":418.9,"y":11.06},{"x":418.96,"y":11.06},{"x":419.01,"y":11.06},{"x":419.93,"y":11.06},
{"x":418.22,"y":11.07},{"x":418.3,"y":11.07},{"x":418.37,"y":11.07},{"x":418.78,"y":11.07},{"x":418.9,"y":11.07},{"x":419.13,"y":11.07},{"x":419.2,"y":11.07},{"x":419.27,"y":11.07},{"x":419.33,"y":11.07},{"x":419.39,"y":11.07},{"x":419.48,"y":11.07},
{"x":420.86,"y":11.09},{"x":420.92,"y":11.09},{"x":420.99,"y":11.09},
{"x":418.85,"y":11.1},{"x":418.92,"y":11.1},{"x":418.99,"y":11.1},{"x":419.06,"y":11.1},{"x":419.13,"y":11.1},{"x":419.2,"y":11.1},{"x":419.27,"y":11.1},{"x":419.33,"y":11.1},{"x":419.47,"y":11.1},{"x":419.55,"y":11.1},{"x":419.63,"y":11.1},{"x":419.69,"y":11.1},{"x":419.76,"y":11.1},{"x":419.84,"y":11.1},{"x":419.92,"y":11.1},
{"x":418.73,"y":11.11},{"x":418.78,"y":11.11},{"x":418.83,"y":11.11},{"x":418.9,"y":11.11},{"x":418.96,"y":11.11},{"x":419.01,"y":11.11},{"x":419.18,"y":11.11},{"x":419.23,"y":11.11},{"x":419.28,"y":11.11},{"x":419.49,"y":11.11},{"x":419.55,"y":11.11},{"x":419.61,"y":11.11},{"x":420.96,"y":11.11},{"x":421.03,"y":11.11},{"x":421.09,"y":11.11},
{"x":418.3,"y":11.12},{"x":418.38,"y":11.12},{"x":418.46,"y":11.12},{"x":418.54,"y":11.12},{"x":418.62,"y":11.12},{"x":418.73,"y":11.12},{"x":418.85,"y":11.12},{"x":418.92,"y":11.12},{"x":418.99,"y":11.12},{"x":419.05,"y":11.12},{"x":420.93,"y":11.12},{"x":420.99,"y":11.12},{"x":421.05,"y":11.12},
{"x":420.78,"y":11.13},{"x":420.85,"y":11.13},{"x":420.91,"y":11.13},
{"x":419.63,"y":11.14},{"x":419.68,"y":11.14},{"x":419.72,"y":11.14},
{"x":419.98,"y":11.16},{"x":420.05,"y":11.16},{"x":420.11,"y":11.16},{"x":420.22,"y":11.16},{"x":421.2,"y":11.16},{"x":421.28,"y":11.16},{"x":421.36,"y":11.16},
{"x":418.86,"y":11.17},{"x":418.94,"y":11.17},{"x":419.01,"y":11.17},{"x":419.1,"y":11.17},{"x":419.15,"y":11.17},{"x":419.28,"y":11.17},{"x":419.34,"y":11.17},{"x":419.4,"y":11.17},{"x":419.5,"y":11.17},{"x":419.57,"y":11.17},{"x":419.63,"y":11.17},
{"x":420.19,"y":11.18},{"x":420.27,"y":11.18},{"x":420.36,"y":11.18},{"x":420.43,"y":11.18},{"x":420.5,"y":11.18},{"x":420.56,"y":11.18},
{"x":418.75,"y":11.19},{"x":418.81,"y":11.19},{"x":418.86,"y":11.19},{"x":420.77,"y":11.19},{"x":420.84,"y":11.19},{"x":420.92,"y":11.19},{"x":420.99,"y":11.19},
{"x":418.97,"y":11.21},{"x":419.03,"y":11.21},{"x":419.08,"y":11.21},{"x":419.13,"y":11.21},
{"x":418.72,"y":11.24},{"x":418.78,"y":11.24},{"x":418.85,"y":11.24},{"x":421.18,"y":11.24},{"x":421.27,"y":11.24},{"x":421.36,"y":11.24},
{"x":418.82,"y":11.35},{"x":418.88,"y":11.35},{"x":418.95,"y":11.35},
{"x":418.85,"y":11.4},{"x":418.9,"y":11.4},{"x":418.95,"y":11.4}
]},
"mark":{"type":"point","filled":true,"shape":"circle","size":42,"opacity":0.9,"color":"#ff7f0e","strokeWidth":0},
"encoding":{"x":{"field":"x","type":"quantitative","scale":{"domain":[410.43,421.75],"nice":false,"zero":false},"axis":{"values":[412,414,416,418,420],"format":"d","title":"CO₂ (ppmv)","titleFont":"DejaVu Serif","titleFontSize":27,"titleFontWeight":"normal","titleColor":"#000","titleX":537,"titleY":40,"labelFont":"DejaVu Serif","labelFontSize":19.5,"labelColor":"#000","labelPadding":7,"domainColor":"#333","domainWidth":2,"tickColor":"#333","tickSize":6,"tickWidth":1.5,"gridColor":"#000","gridOpacity":0.08,"gridWidth":1.5}},
"y":{"field":"y","type":"quantitative","scale":{"domain":[9.89,11.472],"nice":false,"zero":false},"axis":{"values":[10,10.2,10.4,10.6,10.8,11,11.2,11.4],"format":".1f","title":"SF₆ (pptv)","titleFont":"DejaVu Serif","titleFontSize":27,"titleFontWeight":"normal","titleColor":"#000","titleX":-64,"labelFont":"DejaVu Serif","labelFontSize":19.5,"labelColor":"#000","labelPadding":6,"domainColor":"#333","domainWidth":2,"tickColor":"#333","tickSize":6,"tickWidth":1.5,"gridColor":"#000","gridOpacity":0.08,"gridWidth":1.5}}}},
{"data":{"values":[
{"s":"Obs RMA (slope=0.1218, R²=0.836)","x":410.99,"y":10.007},{"s":"Obs RMA (slope=0.1218, R²=0.836)","x":421.37,"y":11.27},
{"s":"ICON-ART 26 km (slope=0.0937, R²=0.968)","x":410.94,"y":10.4376},{"s":"ICON-ART 26 km (slope=0.0937, R²=0.968)","x":419.14,"y":11.207},
{"s":"ICON-ART 80 km (slope=0.1069, R²=0.980)","x":412.63,"y":10.49},{"s":"ICON-ART 80 km (slope=0.1069, R²=0.980)","x":419.88,"y":11.265},
{"s":"IFS 80 km (slope=0.0732, R²=0.984)","x":411.34,"y":10.452},{"s":"IFS 80 km (slope=0.0732, R²=0.984)","x":420.43,"y":11.122},
{"s":"IFS 26 km (slope=0.0716, R²=0.986)","x":411.81,"y":10.49},{"s":"IFS 26 km (slope=0.0716, R²=0.986)","x":420.81,"y":11.137},
{"s":"IFS 9 km (slope=0.0719, R²=0.974)","x":411.81,"y":10.49},{"s":"IFS 9 km (slope=0.0719, R²=0.974)","x":420.39,"y":11.11}
]},
"mark":{"type":"line","clip":true},
"encoding":{"x":{"field":"x","type":"quantitative"},"y":{"field":"y","type":"quantitative"},
"detail":{"field":"s"},
"strokeWidth":{"field":"s","type":"nominal","legend":null,"scale":{"type":"ordinal","domain":["Obs RMA (slope=0.1218, R²=0.836)","ICON-ART 26 km (slope=0.0937, R²=0.968)","ICON-ART 80 km (slope=0.1069, R²=0.980)","IFS 80 km (slope=0.0732, R²=0.984)","IFS 26 km (slope=0.0716, R²=0.986)","IFS 9 km (slope=0.0719, R²=0.974)"],"range":[5.5,3.8,3.8,3.8,3.8,3.8]}},
"color":{"field":"s","type":"nominal","title":null,"sort":null,
"scale":{"domain":["Lower Strat (0 ≤ ΔZ < 2 km) (N=12828)","Obs RMA (slope=0.1218, R²=0.836)","ICON-ART 26 km (slope=0.0937, R²=0.968)","ICON-ART 80 km (slope=0.1069, R²=0.980)","IFS 80 km (slope=0.0732, R²=0.984)","IFS 26 km (slope=0.0716, R²=0.986)","IFS 9 km (slope=0.0719, R²=0.974)"],"range":["#ff7f0e","#000000","#0072B2","#56B4E9","#CC79A7","#D55E00","#E69F00"]},
"legend":{"orient":"none","legendX":9,"legendY":8,"title":null,"labelFont":"DejaVu Serif","labelFontSize":17.35,"labelColor":"#000","labelLimit":500,"symbolType":"stroke","symbolSize":300,"rowPadding":6,"labelOffset":32,"padding":6,"fillColor":"rgba(255,255,255,0.85)","strokeColor":"#ccc","cornerRadius":3,
"encoding":{"symbols":{"x":{"value":18},"shape":{"value":{"signal":"test(/^Lower/,datum.value)?'circle':'stroke'"}},"size":{"value":{"signal":"test(/^Lower/,datum.value)?30:1521"}},"fill":{"value":{"signal":"test(/^Lower/,datum.value)?'#ff7f0e':'transparent'"}},"stroke":{"value":{"signal":"test(/^Lower/,datum.value)?'transparent':scale('color',datum.value)"}},"opacity":{"value":{"signal":"test(/^Lower/,datum.value)?0.35:1"}},"strokeWidth":{"value":{"signal":"test(/^Obs/,datum.value)?5:3.8"}},"strokeDash":{"value":{"signal":"test(/^(ICON-ART 80|IFS 9)/,datum.value)?[16,7]:test(/^IFS 80/,datum.value)?[4,6.5]:[1,0]"}}}}}},
"strokeDash":{"field":"s","type":"nominal","legend":null,"scale":{"domain":["Obs RMA (slope=0.1218, R²=0.836)","ICON-ART 26 km (slope=0.0937, R²=0.968)","ICON-ART 80 km (slope=0.1069, R²=0.980)","IFS 80 km (slope=0.0732, R²=0.984)","IFS 26 km (slope=0.0716, R²=0.986)","IFS 9 km (slope=0.0719, R²=0.974)"],"range":[[1,0],[1,0],[14,6],[4,6.5],[1,0],[14,6]]}}}}
]}
